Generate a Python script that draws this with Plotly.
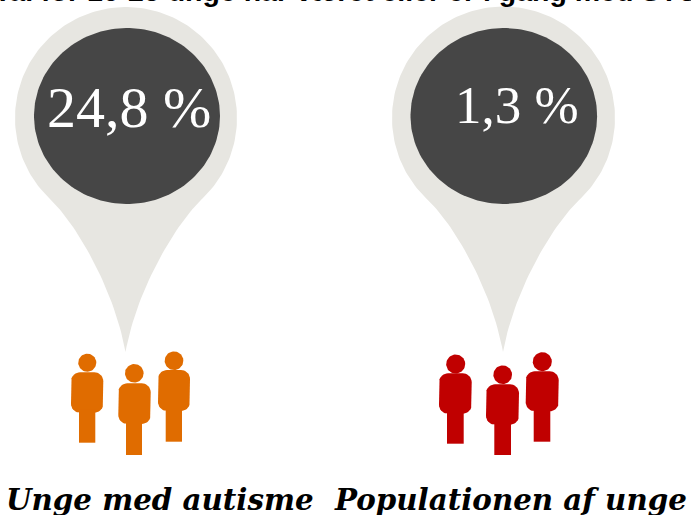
import numpy as np
import plotly.graph_objects as go

categories = ["Unge med autisme", "Populationen af unge"]
values = [24.8, 1.3]
title_text = "Tal for 16-25 unge har været eller er i gang med STU"
person_colors = ["#E06C00", "#C00000"]

PALE = "#E7E6E1"
DARK = "#464646"
W, H = 691, 515

fig = go.Figure()


def add_poly(x, y, color):
    fig.add_trace(go.Scatter(x=x, y=y, mode="lines", fill="toself", fillcolor=color,
                             line=dict(width=0, color=color), hoverinfo="skip", showlegend=False))


def bezier(p0, p1, p2, p3, n=40):
    t = np.linspace(0, 1, n)[:, None]
    p0, p1, p2, p3 = map(np.array, (p0, p1, p2, p3))
    return (1-t)**3*p0 + 3*(1-t)**2*t*p1 + 3*(1-t)*t**2*p2 + t**3*p3


def pin(cx, cy, r, tipx, tipy, icx, icy, irx, iry):
    a0 = np.arcsin(80 / r)
    ang = np.linspace(np.pi - a0, 2*np.pi + a0, 160)
    xs = cx + r*np.cos(ang)
    ys = cy + r*np.sin(ang)
    right = (xs[-1], ys[-1])
    left = (xs[0], ys[0])
    b1 = bezier(right, (cx+51, cy+104), (tipx+11.5, tipy-64), (tipx, tipy))
    b2 = bezier((tipx, tipy), (tipx-11.5, tipy-64), (cx-51, cy+104), left)
    add_poly(np.r_[xs, b1[:, 0], b2[:, 0]], np.r_[ys, b1[:, 1], b2[:, 1]], PALE)
    t = np.linspace(0, 2*np.pi, 160)
    add_poly(icx + irx*np.cos(t), icy + iry*np.sin(t), DARK)


def rrect(x0, x1, y0, y1, r):
    t = np.linspace(0, np.pi/2, 10)
    xs = np.r_[x1-r+r*np.sin(t), x1-r+r*np.cos(t), x0+r-r*np.sin(t), x0+r-r*np.cos(t)]
    ys = np.r_[y0+r-r*np.cos(t), y1-r+r*np.sin(t), y1-r+r*np.cos(t), y0+r-r*np.sin(t)]
    return xs, ys


def person(hx, hy, hr, bx0, bx1, by0, by1, lx0, lx1, ly1, color):
    t = np.linspace(0, 2*np.pi, 50)
    add_poly(hx + hr*np.cos(t), hy + hr*np.sin(t), color)
    add_poly(*rrect(bx0, bx1, by0, by1, 9), color)
    add_poly([lx0, lx1, lx1, lx0, lx0], [by1-3, by1-3, ly1, ly1, by1-3], color)


pin(126, 118, 111, 125.5, 352, 127, 116, 93, 88)
pin(503.5, 118, 111.5, 503, 352, 503.8, 116, 93.3, 88)

person(87.3, 362.7, 9, 71, 103.3, 372.3, 412.7, 79, 95.3, 442.7, person_colors[0])
person(134.3, 373.3, 9.3, 118.3, 150.7, 383.3, 424, 126, 142, 455, person_colors[0])
person(174, 360.7, 9.3, 158, 190, 370, 411, 165.7, 182, 441.7, person_colors[0])
person(455.7, 364, 9.5, 439, 471.7, 373.3, 413.7, 447, 463.7, 443.7, person_colors[1])
person(502.7, 374.7, 9.3, 486, 519, 384.3, 424.7, 494.3, 511, 455, person_colors[1])
person(542.3, 361.7, 9.5, 525.7, 558.7, 371.3, 411.3, 533.7, 550.3, 441.7, person_colors[1])


def fmt(v):
    return f"{v:.1f}".replace(".", ",") + " %"


annotations = [
    dict(x=128.5, y=107, text=fmt(values[0]), font=dict(family="Liberation Serif", size=58, color="white")),
    dict(x=517, y=105, text=fmt(values[1]), font=dict(family="Liberation Serif", size=53, color="white")),
    dict(x=160, y=499, text=f"<b><i>{categories[0]}</i></b>",
         font=dict(family="DejaVu Serif", size=29.3, color="black")),
    dict(x=510, y=499, text=f"<b><i>{categories[1]}</i></b>",
         font=dict(family="DejaVu Serif", size=29.3, color="black")),
]
for a in annotations:
    a.update(xref="x", yref="y", showarrow=False, xanchor="center", yanchor="middle")
annotations.append(dict(xref="paper", yref="paper", x=0.5, y=1, yshift=9, showarrow=False,
                        xanchor="center", yanchor="middle", text=f"<b>{title_text}</b>",
                        font=dict(family="Liberation Sans", size=28.5, color="black")))

fig.update_layout(
    width=W, height=H, margin=dict(l=0, r=0, t=0, b=0),
    paper_bgcolor="white", plot_bgcolor="white", showlegend=False,
    xaxis=dict(range=[0, W], visible=False, fixedrange=True),
    yaxis=dict(range=[H, 0], visible=False, fixedrange=True),
    annotations=annotations,
)
fig.write_html("out.html", config={"displayModeBar": False},
               post_script="document.body.style.margin='0';document.body.style.overflow='hidden';")
